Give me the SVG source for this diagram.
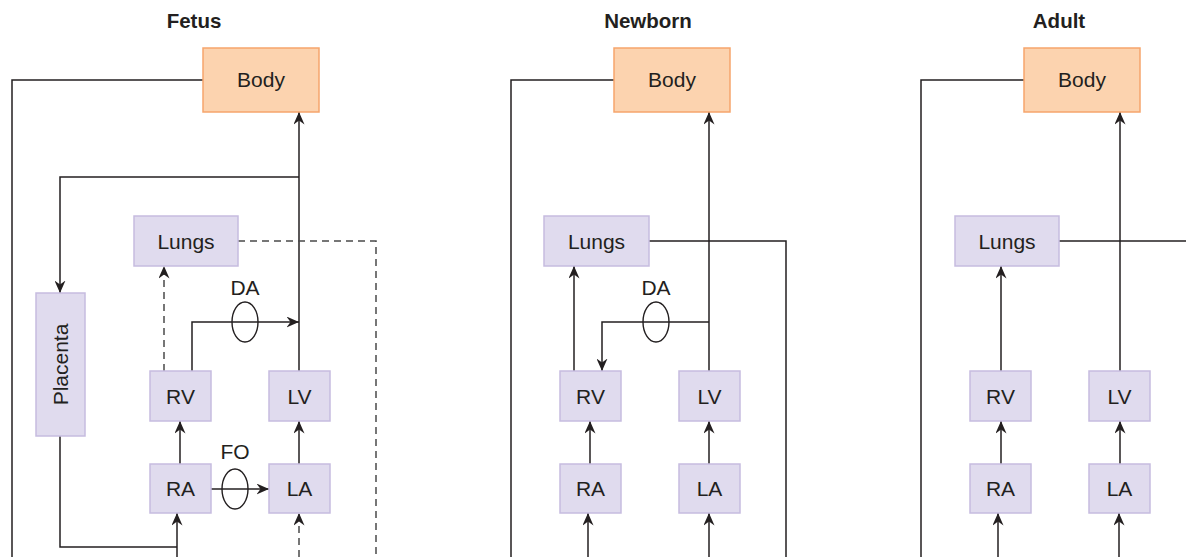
<svg xmlns="http://www.w3.org/2000/svg" width="1186" height="557" viewBox="0 0 1186 557">
<style>
.body{fill:#FCD3AF;stroke:#F6A56C;stroke-width:1.5}
.org{fill:#E0DBEE;stroke:#C6BCDF;stroke-width:1.5}
.lbl{font-family:"Liberation Sans",Arial,sans-serif;font-size:21px;fill:#231F20;text-anchor:middle}
.ttl{font-family:"Liberation Sans",Arial,sans-serif;font-size:20.5px;font-weight:bold;fill:#231F20;text-anchor:middle}
.ln{fill:none;stroke:#231F20;stroke-width:1.5}
.dash{fill:none;stroke:#4A4A4A;stroke-width:1.5;stroke-dasharray:7 5}
.arr{marker-end:url(#ah)}
.valve{fill:none;stroke:#231F20;stroke-width:1.4}
</style>
<defs>
<marker id="ah" markerUnits="userSpaceOnUse" markerWidth="13" markerHeight="11" refX="12.5" refY="5.5" orient="auto" viewBox="0 0 13 11">
<path d="M0,0 L12.5,5.5 L0,11 L4,5.5 z" fill="#231F20"/>
</marker>
</defs>
<rect width="1186" height="557" fill="#FFFFFF"/>

<g id="titles">
<text class="ttl" x="194" y="28">Fetus</text>
<text class="ttl" x="648" y="28">Newborn</text>
<text class="ttl" x="1059" y="28">Adult</text>
</g>

<g id="connectors">
<!-- Fetus -->
<path class="ln" d="M203,80 H12 V557"/>
<path class="ln arr" d="M299,371 V112"/>
<path class="ln arr" d="M299,177 H60 V293"/>
<path class="dash" d="M238,241 H376 V557"/>
<path class="dash arr" d="M164,371 V266"/>
<path class="ln arr" d="M192,371 V322 H299"/>
<path class="ln arr" d="M180,464 V421"/>
<path class="ln arr" d="M299,464 V421"/>
<path class="ln arr" d="M211,489 H269"/>
<path class="ln" d="M60,436 V547 H177"/>
<path class="ln arr" d="M177,557 V513"/>
<path class="dash arr" d="M299,557 V513"/>
<!-- Newborn -->
<path class="ln" d="M614,80 H511 V557"/>
<path class="ln arr" d="M709,371 V112"/>
<path class="ln" d="M649,241 H786 V557"/>
<path class="ln arr" d="M574,371 V266"/>
<path class="ln arr" d="M709,322 H602 V371"/>
<path class="ln arr" d="M590,464 V421"/>
<path class="ln arr" d="M709,464 V421"/>
<path class="ln arr" d="M588,557 V513"/>
<path class="ln arr" d="M709,557 V513"/>
<!-- Adult -->
<path class="ln" d="M1024,80 H921 V557"/>
<path class="ln arr" d="M1120,371 V112"/>
<path class="ln" d="M1059,241 H1190"/>
<path class="ln arr" d="M1001,371 V266"/>
<path class="ln arr" d="M1001,464 V421"/>
<path class="ln arr" d="M1120,464 V421"/>
<path class="ln arr" d="M998,557 V513"/>
<path class="ln arr" d="M1119,557 V513"/>
</g>

<g id="shunts">
<g id="fetus-da"><ellipse class="valve" cx="245" cy="322" rx="13" ry="20"/><text class="lbl" x="245" y="295">DA</text></g>
<g id="fetus-fo"><ellipse class="valve" cx="235" cy="489" rx="13" ry="20"/><text class="lbl" x="235" y="459">FO</text></g>
<g id="newborn-da"><ellipse class="valve" cx="656" cy="322" rx="13" ry="20"/><text class="lbl" x="656" y="295">DA</text></g>
</g>

<!-- Fetus nodes -->
<g id="fetus-body"><rect class="body" x="203" y="48" width="116" height="64"/><text class="lbl" x="261" y="87">Body</text></g>
<g id="fetus-lungs"><rect class="org" x="134" y="216" width="104" height="50"/><text class="lbl" x="186" y="248.5">Lungs</text></g>
<g id="fetus-placenta"><rect class="org" x="36" y="293" width="49" height="143"/><text class="lbl" transform="translate(60.5,364.5) rotate(-90)" x="0" y="7.5">Placenta</text></g>
<g id="fetus-rv"><rect class="org" x="150" y="371" width="61" height="50"/><text class="lbl" x="180.5" y="403.5">RV</text></g>
<g id="fetus-lv"><rect class="org" x="269" y="371" width="61" height="50"/><text class="lbl" x="299.5" y="403.5">LV</text></g>
<g id="fetus-ra"><rect class="org" x="150" y="464" width="61" height="49"/><text class="lbl" x="180.5" y="496">RA</text></g>
<g id="fetus-la"><rect class="org" x="269" y="464" width="61" height="49"/><text class="lbl" x="299.5" y="496">LA</text></g>

<!-- Newborn nodes -->
<g id="newborn-body"><rect class="body" x="614" y="48" width="116" height="64"/><text class="lbl" x="672" y="87">Body</text></g>
<g id="newborn-lungs"><rect class="org" x="544" y="216" width="105" height="50"/><text class="lbl" x="596.5" y="248.5">Lungs</text></g>
<g id="newborn-rv"><rect class="org" x="560" y="371" width="61" height="50"/><text class="lbl" x="590.5" y="403.5">RV</text></g>
<g id="newborn-lv"><rect class="org" x="679" y="371" width="61" height="50"/><text class="lbl" x="709.5" y="403.5">LV</text></g>
<g id="newborn-ra"><rect class="org" x="560" y="464" width="61" height="49"/><text class="lbl" x="590.5" y="496">RA</text></g>
<g id="newborn-la"><rect class="org" x="679" y="464" width="61" height="49"/><text class="lbl" x="709.5" y="496">LA</text></g>

<!-- Adult nodes -->
<g id="adult-body"><rect class="body" x="1024" y="48" width="116" height="64"/><text class="lbl" x="1082" y="87">Body</text></g>
<g id="adult-lungs"><rect class="org" x="955" y="216" width="104" height="50"/><text class="lbl" x="1007" y="248.5">Lungs</text></g>
<g id="adult-rv"><rect class="org" x="970" y="371" width="61" height="50"/><text class="lbl" x="1000.5" y="403.5">RV</text></g>
<g id="adult-lv"><rect class="org" x="1089" y="371" width="61" height="50"/><text class="lbl" x="1119.5" y="403.5">LV</text></g>
<g id="adult-ra"><rect class="org" x="970" y="464" width="61" height="49"/><text class="lbl" x="1000.5" y="496">RA</text></g>
<g id="adult-la"><rect class="org" x="1089" y="464" width="61" height="49"/><text class="lbl" x="1119.5" y="496">LA</text></g>
</svg>
